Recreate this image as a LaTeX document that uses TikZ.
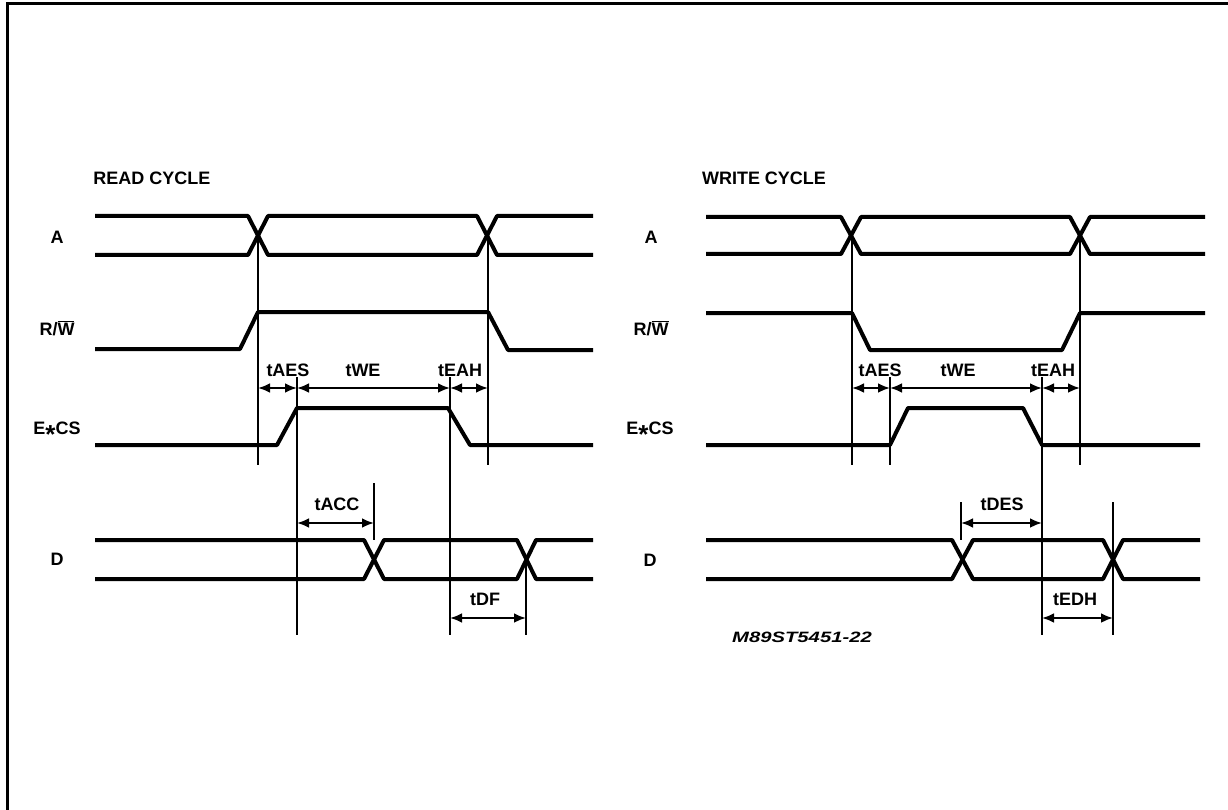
\documentclass[tikz,border=0pt]{standalone}
\usepackage{fontspec}
\setmainfont{Liberation Sans}
\usepackage{graphicx}
\usetikzlibrary{arrows.meta}

\newcommand{\ecs}{E\smash{\raisebox{-0.5em}{\fontsize{26}{26}\selectfont *}}CS}

\begin{document}
\begin{tikzpicture}[x=1pt,y=-1pt,
   signal/.style={line width=4pt,line join=round},
   marker/.style={line width=2pt},
   dim/.style={line width=2.5pt,{Latex[length=12pt,width=10pt]}-{Latex[length=12pt,width=10pt]}},
   lbl/.style={font=\fontsize{18}{20}\selectfont\bfseries,inner sep=0pt}]
\useasboundingbox (0,0) rectangle (1228,810);
\draw[line width=3pt] (7,810) -- (7,4) -- (1228,4);

% read cycle
\node[lbl] (rtitle) at (152,178) {READ CYCLE};
\node[lbl] (rA) at (57,237) {A};
\node[lbl] (rRW) at (57,328) {R/$\overline{\hbox{W}}$};
\node[lbl] (rE) at (57,428) {\ecs};
\node[lbl] (rD) at (57,559) {D};

\draw[signal] (95,216) -- (248,216) -- (268,255) -- (477,255) -- (497,216) -- (593,216);
\draw[signal] (95,255) -- (248,255) -- (268,216) -- (477,216) -- (497,255) -- (593,255);
\draw[signal] (95,349) -- (240,349) -- (258,312) -- (488,312) -- (508,350) -- (593,350);
\draw[signal] (95,445) -- (277,445) -- (297,408) -- (448,408) -- (470,445) -- (593,445);
\draw[signal] (95,540) -- (364,540) -- (384,579) -- (517,579) -- (536,540) -- (593,540);
\draw[signal] (95,579) -- (364,579) -- (384,540) -- (517,540) -- (536,579) -- (593,579);

\draw[marker] (258,236) -- (258,465);
\draw[marker] (297,377) -- (297,635);
\draw[marker] (450,377) -- (450,635);
\draw[marker] (488,236) -- (488,465);
\draw[marker] (374,483) -- (374,540);
\draw[marker] (526,560) -- (526,635);

\coordinate (r1) at (258,388);
\coordinate (r2) at (297,388);
\coordinate (r3) at (450,388);
\coordinate (r4) at (488,388);
\coordinate (ra) at (297,523);
\coordinate (rb) at (374,523);
\coordinate (rc) at (450,618);
\coordinate (rd) at (526,618);
\draw[dim] (r1) -- (r2);
\draw[dim] (r2) -- (r3);
\draw[dim] (r3) -- (r4);
\draw[dim] (ra) -- (rb);
\draw[dim] (rc) -- (rd);
\node[lbl] (rtAES) at (288,370) {tAES};
\node[lbl] (rtWE) at (363,370) {tWE};
\node[lbl] (rtEAH) at (460,370) {tEAH};
\node[lbl] (rtACC) at (337,504) {tACC};
\node[lbl] (rtDF) at (485,599) {tDF};

% write cycle
\node[lbl] (wtitle) at (764,178) {WRITE CYCLE};
\node[lbl] (wA) at (651,237) {A};
\node[lbl] (wRW) at (651,328) {R/$\overline{\hbox{W}}$};
\node[lbl] (wE) at (650,428) {\ecs};
\node[lbl] (wD) at (650,560) {D};

\draw[signal] (706,217) -- (841,217) -- (861,254) -- (1070,254) -- (1090,217) -- (1205,217);
\draw[signal] (706,254) -- (841,254) -- (861,217) -- (1070,217) -- (1090,254) -- (1205,254);
\draw[signal] (706,313) -- (852,313) -- (870,350) -- (1062,350) -- (1080,313) -- (1205,313);
\draw[signal] (706,445) -- (890,445) -- (908,408) -- (1023,408) -- (1042,445) -- (1200,445);
\draw[signal] (706,540) -- (952,540) -- (973,579) -- (1103,579) -- (1123,540) -- (1200,540);
\draw[signal] (706,579) -- (952,579) -- (973,540) -- (1103,540) -- (1123,579) -- (1200,579);

\draw[marker] (852,236) -- (852,465);
\draw[marker] (890,377) -- (890,465);
\draw[marker] (1042,377) -- (1042,635);
\draw[marker] (1080,236) -- (1080,465);
\draw[marker] (961,502) -- (961,540);
\draw[marker] (1113,502) -- (1113,635);

\coordinate (w1) at (852,388);
\coordinate (w2) at (890,388);
\coordinate (w3) at (1042,388);
\coordinate (w4) at (1080,388);
\coordinate (wa) at (961,523);
\coordinate (wb) at (1042,523);
\coordinate (wc) at (1042,618);
\coordinate (wd) at (1113,618);
\draw[dim] (w1) -- (w2);
\draw[dim] (w2) -- (w3);
\draw[dim] (w3) -- (w4);
\draw[dim] (wa) -- (wb);
\draw[dim] (wc) -- (wd);
\node[lbl] (wtAES) at (880,370) {tAES};
\node[lbl] (wtWE) at (958,370) {tWE};
\node[lbl] (wtEAH) at (1053,370) {tEAH};
\node[lbl] (wtDES) at (1002,504) {tDES};
\node[lbl] (wtEDH) at (1075,599) {tEDH};

\node[inner sep=0pt,font=\fontsize{15}{17}\selectfont\bfseries\itshape] (figid) at (802,637) {\scalebox{1.35}[1]{M89ST5451-22}};
\end{tikzpicture}
\end{document}
